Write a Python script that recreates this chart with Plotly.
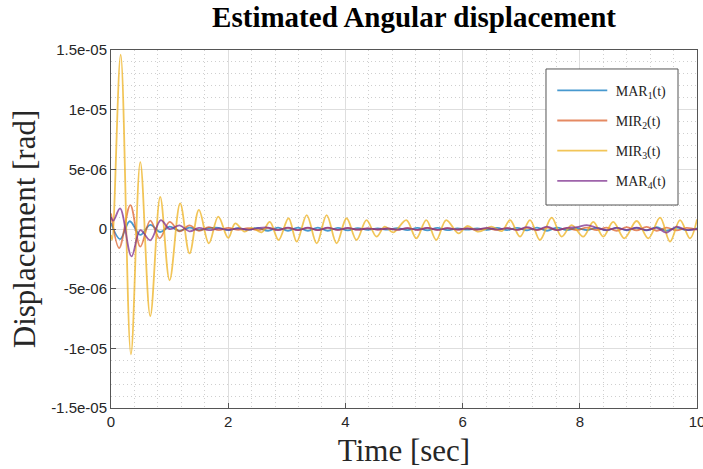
import plotly.graph_objects as go

# ---------------- data (values in micro-radians) ----------------
# MIR3(t) extrema (time [s], displacement [1e-6 rad])
t_mir3 = [0.0, 0.02, 0.165, 0.34, 0.50, 0.67, 0.84, 1.00, 1.18, 1.34, 1.50, 1.67, 1.83, 2.00,
          2.12, 2.28, 2.40, 2.57, 2.71, 2.86, 3.03, 3.17, 3.34, 3.51, 3.68, 3.85, 4.02, 4.19,
          4.36, 4.53, 4.67, 4.82, 5.04, 5.21, 5.38, 5.55, 5.72, 5.93, 6.08, 6.27, 6.49, 6.67,
          6.81, 6.98, 7.15, 7.32, 7.52, 7.69, 7.86, 8.06, 8.23, 8.40, 8.57, 8.76, 8.97, 9.17,
          9.37, 9.54, 9.71, 9.88, 10.0]
v_mir3 = [-0.5, -0.9, 14.6, -10.5, 5.6, -7.3, 2.7, -4.3, 2.15, -2.05, 1.6, -1.2, 1.03, -0.75,
          0.47, -0.22, 0.1, -0.28, 0.6, -0.92, 0.9, -1.06, 1.17, -1.2, 1.17, -1.2, 0.9, -0.92,
          0.75, -0.64, 0.2, -0.28, 0.75, -0.78, 0.75, -0.92, 0.75, -0.36, 0.25, -0.22, 0.2, -0.17,
          0.75, -0.64, 0.75, -0.92, 0.95, -0.64, 0.33, -0.64, 0.6, -0.64, 0.6, -0.78, 0.67, -0.78,
          0.95, -1.06, 0.75, -0.78, 0.8]

# early transient extrema of the other three signals
t_mar1_early = [0.0, 0.155, 0.32, 0.50, 0.67, 0.84, 1.00, 1.17, 1.34, 1.50, 1.67]
v_mar1_early = [0.5, -0.85, 0.65, -0.5, 0.35, -0.25, 0.2, -0.15, 0.12, -0.1, 0.08]

t_mir2_early = [0.0, 0.14, 0.33, 0.50, 0.67, 0.83, 1.00, 1.17, 1.34, 1.50, 1.67]
v_mir2_early = [1.3, -1.6, 2.0, -1.48, 0.7, -0.78, 0.6, -0.2, 0.3, -0.15, 0.15]

t_mar4_early = [0.0, 0.04, 0.155, 0.35, 0.50, 0.67, 0.85, 1.00, 1.17, 1.34, 1.50, 1.67]
v_mar4_early = [1.0, 0.7, 1.73, -2.3, -0.1, -0.95, 0.75, 0.0, 0.3, -0.2, 0.1, -0.1]

# later small oscillations (shared extrema times)
t_late = [1.84, 2.00, 2.17, 2.34, 2.51, 2.68, 2.85, 3.02, 3.19, 3.36, 3.53, 3.70, 3.87, 4.04,
          4.21, 4.38, 4.55, 4.72, 4.89, 5.06, 5.23, 5.40, 5.57, 5.74, 5.91, 6.08, 6.25, 6.42,
          6.59, 6.76, 6.93, 7.10, 7.27, 7.44, 7.61, 7.78, 7.95, 8.12, 8.29, 8.46, 8.63, 8.80,
          8.97, 9.14, 9.31, 9.48, 9.65, 9.82, 10.0]
v_mar1_late = [0.1, -0.1, 0.08, -0.08, 0.1, -0.15, 0.12, -0.15, 0.12, -0.15, 0.12, -0.15, 0.1, -0.12,
               0.08, -0.08, 0.05, -0.05, 0.08, -0.1, 0.1, -0.12, 0.1, -0.1, 0.05, -0.05, 0.05, -0.08,
               0.1, -0.1, 0.1, -0.12, 0.12, -0.15, 0.12, -0.1, 0.08, -0.1, 0.1, -0.12, 0.12, -0.12,
               0.1, -0.12, 0.15, -0.15, 0.12, -0.1, 0.05]
v_mir2_late = [-0.1, 0.1, -0.08, 0.08, -0.1, 0.1, -0.08, 0.1, -0.1, 0.1, -0.1, 0.1, -0.08, 0.08,
               -0.06, 0.06, -0.05, 0.05, -0.08, 0.08, -0.08, 0.1, -0.08, 0.08, -0.05, 0.05, -0.05, 0.06,
               -0.08, 0.08, -0.08, 0.1, -0.1, 0.12, -0.1, 0.08, -0.1, 0.12, -0.1, 0.12, -0.15, 0.15,
               -0.12, 0.18, -0.15, 0.12, -0.12, 0.1, -0.05]
v_mar4_late = [0.05, -0.08, 0.06, -0.06, 0.08, 0.12, -0.1, 0.12, -0.1, 0.12, -0.1, 0.12, -0.08, 0.1,
               -0.06, 0.06, -0.04, 0.04, -0.06, 0.08, -0.08, 0.1, -0.08, 0.08, -0.05, 0.05, -0.05, 0.1,
               -0.05, 0.08, -0.08, 0.15, -0.08, 0.2, -0.1, 0.1, 0.15, 0.33, 0.1, -0.1, 0.1, -0.08,
               0.12, -0.1, 0.1, -0.3, 0.2, -0.08, 0.0]

y_tickvals = [-15, -10, -5, 0, 5, 10, 15]
y_ticktext = ["-1.5e-05", "-1e-05", "-5e-06", "0", "5e-06", "1e-05", "1.5e-05"]
x_tickvals = [0, 2, 4, 6, 8, 10]
x_ticktext = ["0", "2", "4", "6", "8", "10"]

names = ["&nbsp;MAR<sub>1</sub>(t)", "&nbsp;MIR<sub>2</sub>(t)", "&nbsp;MIR<sub>3</sub>(t)", "&nbsp;MAR<sub>4</sub>(t)"]
colors = ["rgba(0,114,189,0.72)", "rgba(217,83,25,0.68)", "rgba(237,177,32,0.75)", "rgba(126,47,142,0.75)"]

SCALE = 1e-6
series = [
    (t_mar1_early + t_late, v_mar1_early + v_mar1_late),
    (t_mir2_early + t_late, v_mir2_early + v_mir2_late),
    (t_mir3, v_mir3),
    (t_mar4_early + t_late, v_mar4_early + v_mar4_late),
]

fig = go.Figure()
for i, (tt, vv) in enumerate(series):
    fig.add_trace(go.Scatter(
        x=tt, y=[v * SCALE for v in vv], mode="lines", name=names[i],
        legendgroup=f"g{i}",
        line=dict(color=colors[i], width=1.8, shape="spline", smoothing=1.0),
    ))

grid_major = "#DEDEDE"
grid_minor = "#CFCFCF"
axis_font = dict(family="Liberation Sans, Arial, sans-serif", size=15, color="#262626")
serif = "Liberation Serif, Times New Roman, serif"

# legend frame (drawn as a box behind the legend entries)
fig.add_shape(type="rect", xref="paper", yref="paper",
              x0=0.7423, x1=0.9676, y0=0.567, y1=0.947,
              line=dict(color="#555555", width=1), fillcolor="white", layer="above")

fig.update_layout(
    width=703, height=469,
    margin=dict(l=111, r=6, t=50, b=61),
    paper_bgcolor="white", plot_bgcolor="white",
    title=dict(text="<b>Estimated Angular displacement</b>",
               font=dict(family=serif, size=29, color="black"),
               x=0.589, xanchor="center", xref="container",
               y=0.986, yanchor="top", yref="container", automargin=False),
    showlegend=True,
    legend=dict(x=0.753, y=0.931, xanchor="left", yanchor="top",
                bgcolor="rgba(0,0,0,0)", borderwidth=0,
                font=dict(family=serif, size=14, color="#222222"),
                itemwidth=50, tracegroupgap=9),
    xaxis=dict(range=[0, 10], tickvals=x_tickvals, ticktext=x_ticktext,
               automargin=False, ticklabeloverflow="allow",
               showgrid=True, gridcolor=grid_major, gridwidth=1,
               minor=dict(dtick=0.4, showgrid=True, gridcolor=grid_minor, griddash="1px,3px", gridwidth=1),
               showline=True, linecolor="#555555", linewidth=1, mirror=True,
               ticks="inside", ticklen=5, tickcolor="#555555",
               tickfont=axis_font, zeroline=False,
               title=dict(text="Time [sec]", standoff=10,
                          font=dict(family=serif, size=31, color="#262626"))),
    yaxis=dict(range=[-15e-6, 15e-6], tickvals=[v * SCALE for v in y_tickvals], ticktext=y_ticktext,
               automargin=False, ticklabeloverflow="allow",
               showgrid=True, gridcolor=grid_major, gridwidth=1,
               minor=dict(dtick=1e-6, showgrid=True, gridcolor=grid_minor, griddash="1px,3px", gridwidth=1),
               showline=True, linecolor="#555555", linewidth=1, mirror=True,
               ticks="inside", ticklen=5, tickcolor="#555555",
               tickfont=axis_font, zeroline=False,
               title=dict(text="Displacement [rad]", standoff=6,
                          font=dict(family=serif, size=31, color="#262626"))),
)

# the page body has a default 8px margin; remove it so the figure fills the window
fig.write_html("out.html", config={"displayModeBar": False},
               post_script="document.body.style.margin='0';")
